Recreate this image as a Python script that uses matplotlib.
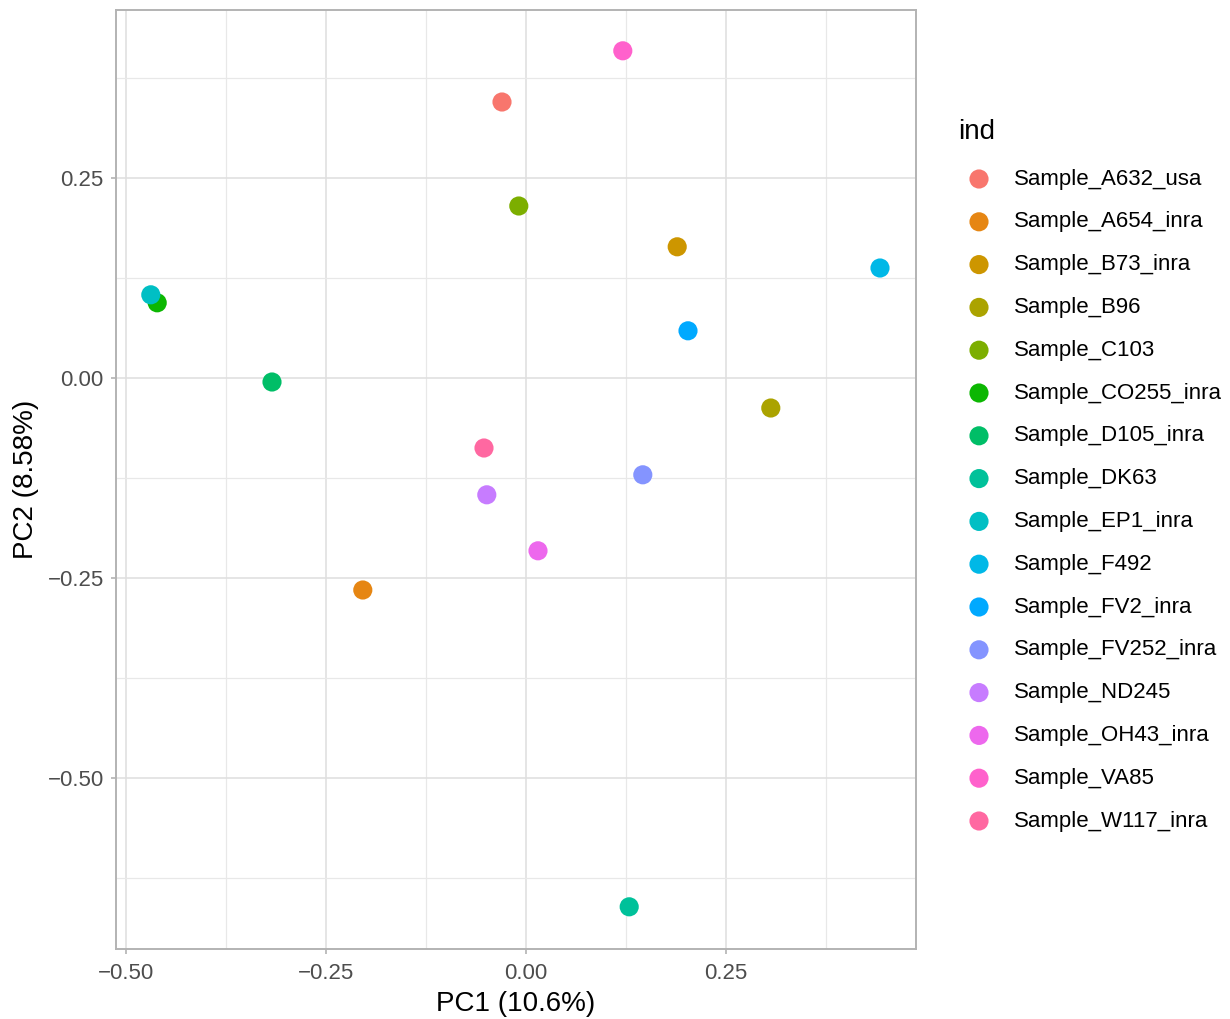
import matplotlib
matplotlib.use("Agg")
import matplotlib.pyplot as plt
from matplotlib.ticker import FixedLocator

plt.rcParams['font.family'] = ['Liberation Sans', 'DejaVu Sans']

samples = ["Sample_A632_usa", "Sample_A654_inra", "Sample_B73_inra", "Sample_B96",
           "Sample_C103", "Sample_CO255_inra", "Sample_D105_inra", "Sample_DK63",
           "Sample_EP1_inra", "Sample_F492", "Sample_FV2_inra", "Sample_FV252_inra",
           "Sample_ND245", "Sample_OH43_inra", "Sample_VA85", "Sample_W117_inra"]
pc1 = [-0.030, -0.204, 0.189, 0.306, -0.009, -0.461, -0.3175, 0.129,
       -0.469, 0.4425, 0.2025, 0.146, -0.049, 0.015, 0.121, -0.0525]
pc2 = [0.345, -0.265, 0.164, -0.0375, 0.215, 0.094, -0.005, -0.661,
       0.104, 0.1375, 0.059, -0.121, -0.146, -0.216, 0.409, -0.0875]
colors = ["#F8766D", "#E68613", "#CD9600", "#ABA300", "#7CAE00", "#0CB702",
          "#00BE67", "#00C19A", "#00BFC4", "#00B8E7", "#00A9FF", "#8494FF",
          "#C77CFF", "#ED68ED", "#FF61CC", "#FF68A1"]
major_ticks = [-0.50, -0.25, 0.00, 0.25]
xlabel = "PC1 (10.6%)"
ylabel = "PC2 (8.58%)"
legend_title = "ind"

W, H = 1230, 1019
fig = plt.figure(figsize=(W / 100, H / 100), dpi=100)
ax = fig.add_axes([116 / W, (H - 949) / H, 800 / W, 939 / H])

for x, y, c in zip(pc1, pc2, colors):
    ax.scatter([x], [y], s=190, color=c, edgecolors='none', zorder=3)

ax.set_xlim(-0.5125, 0.4875)
ax.set_ylim(-0.71375, 0.46)

minor = [-0.625, -0.375, -0.125, 0.125, 0.375]
ax.xaxis.set_major_locator(FixedLocator(major_ticks))
ax.yaxis.set_major_locator(FixedLocator(major_ticks))
ax.xaxis.set_minor_locator(FixedLocator(minor))
ax.yaxis.set_minor_locator(FixedLocator(minor))
fmt = lambda v: ("\u2212" if v < 0 else "") + f"{abs(v):.2f}"
ax.set_xticklabels([fmt(v) for v in major_ticks])
ax.set_yticklabels([fmt(v) for v in major_ticks])

ax.grid(which='major', color='#E0E0E0', linewidth=1.2, zorder=0)
ax.grid(which='minor', color='#E8E8E8', linewidth=0.9, zorder=0)
ax.set_axisbelow(True)
for sp in ax.spines.values():
    sp.set_color('#B3B3B3')
    sp.set_linewidth(1.4)
ax.tick_params(which='major', length=3.8, width=1.2, color='#B3B3B3',
               labelsize=16, labelcolor='#4D4D4D')
ax.tick_params(axis='x', which='major', pad=6.5)
ax.tick_params(axis='y', which='major', pad=5.0)
ax.tick_params(which='minor', length=0)

ax.set_xlabel(xlabel, fontsize=20, labelpad=5)
ax.set_ylabel(ylabel, fontsize=20, labelpad=6)

# legend drawn on a pixel-space overlay
lax = fig.add_axes([0, 0, 1, 1], facecolor='none')
lax.set_xlim(0, W)
lax.set_ylim(H, 0)
lax.axis('off')
lax.text(958, 132, legend_title, fontsize=20, va='center', ha='left')
for i, (name, c) in enumerate(zip(samples, colors)):
    yy = 179 + 42.8 * i
    lax.scatter([979], [yy], s=190, color=c, edgecolors='none')
    lax.text(1014, yy, name, fontsize=16, va='center', ha='left')

fig.savefig("out.png", dpi=100, facecolor='white')
